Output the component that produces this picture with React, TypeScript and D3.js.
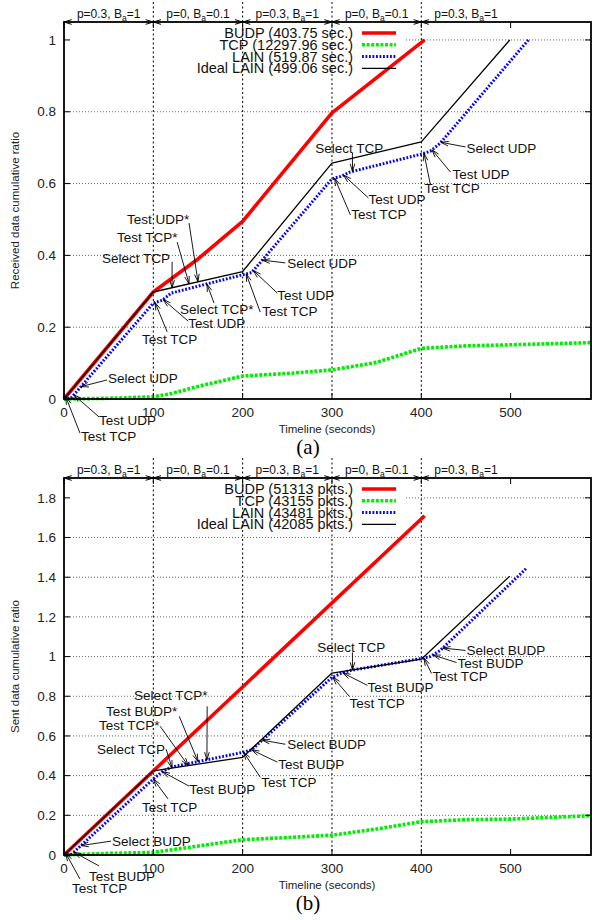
import React from "react";
import * as d3 from "d3";

// tick values
const xTicks = [0, 100, 200, 300, 400, 500];
const yTicksRecv = [0, 0.2, 0.4, 0.6, 0.8, 1];
const yTicksSent = [0, 0.2, 0.4, 0.6, 0.8, 1, 1.2, 1.4, 1.6, 1.8];

// network phases above each panel
const phaseStart = [0, 100, 200, 300, 400];
const phaseP = ["0.3", "0", "0.3", "0", "0.3"];
const phaseBa = ["1", "0.1", "1", "0.1", "1"];

// (a) received data cumulative ratio
const budpRecv: [number, number][] = [[0, 0], [100, 0.298], [150, 0.39], [200, 0.495], [300, 0.797], [403.75, 1]];
const tcpRecv: [number, number][] = [[0, 0], [50, 0.002], [100, 0.006], [120, 0.015], [150, 0.035], [200, 0.064], [250, 0.071], [300, 0.081], [350, 0.102], [400, 0.141], [450, 0.148], [500, 0.151], [590, 0.157]];
const lainRecv: [number, number][] = [[0, 0], [8, 0.003], [100, 0.267], [110, 0.275], [120, 0.295], [200, 0.346], [210, 0.352], [300, 0.613], [310, 0.62], [320, 0.632], [400, 0.682], [410, 0.69], [421, 0.712], [519.87, 1]];
const idealRecv: [number, number][] = [[0, 0], [100, 0.298], [200, 0.355], [300, 0.657], [400, 0.716], [499.06, 1]];
const legendRecv = ["BUDP (403.75 sec.)", "TCP (12297.96 sec.)", "LAIN (519.87 sec.)", "Ideal LAIN (499.06 sec.)"];

// (b) sent data cumulative ratio
const budpSent: [number, number][] = [[0, 0], [403.75, 1.71]];
const tcpSent: [number, number][] = [[0, 0], [50, 0.008], [100, 0.013], [200, 0.077], [250, 0.088], [300, 0.1], [350, 0.131], [400, 0.168], [450, 0.178], [500, 0.181], [590, 0.198]];
const lainSent: [number, number][] = [[0, 0], [8, 0.002], [100, 0.383], [110, 0.42], [120, 0.443], [200, 0.517], [210, 0.53], [300, 0.895], [310, 0.915], [320, 0.93], [400, 0.99], [410, 1.0], [421, 1.03], [518, 1.446]];
const idealSent: [number, number][] = [[0, 0], [100, 0.424], [200, 0.492], [300, 0.917], [400, 0.987], [499, 1.405]];
const legendSent = ["BUDP (51313 pkts.)", "TCP (43155 pkts.)", "LAIN (43481 pkts.)", "Ideal LAIN (42085 pkts.)"];

// annotations: label pos (lx, ly), arrow start (fx, fy), arrow tip on series s at x
type Note = { t: string; lx: number; ly: number; fx: number; fy: number; s: string; x: number };
const notesRecv: Note[] = [
  { t: "Test UDP*", lx: 70.6, ly: 0.501, fx: 140, fy: 0.49, s: "ideal", x: 150 },
  { t: "Test TCP*", lx: 59.4, ly: 0.451, fx: 126.7, fy: 0.437, s: "ideal", x: 140 },
  { t: "Select TCP", lx: 42.6, ly: 0.393, fx: 121, fy: 0.382, s: "ideal", x: 121 },
  { t: "Select TCP*", lx: 130, ly: 0.251, fx: 168, fy: 0.267, s: "lain", x: 160 },
  { t: "Test UDP", lx: 139, ly: 0.212, fx: 139, fy: 0.217, s: "lain", x: 111 },
  { t: "Test TCP", lx: 87.4, ly: 0.167, fx: 115.5, fy: 0.187, s: "lain", x: 102 },
  { t: "Select UDP", lx: 250, ly: 0.379, fx: 247.8, fy: 0.379, s: "lain", x: 222 },
  { t: "Test UDP", lx: 238.8, ly: 0.29, fx: 238.8, fy: 0.295, s: "lain", x: 212 },
  { t: "Test TCP", lx: 222, ly: 0.245, fx: 219.7, fy: 0.242, s: "lain", x: 204 },
  { t: "Select TCP", lx: 281.4, ly: 0.699, fx: 322.9, fy: 0.685, s: "lain", x: 323 },
  { t: "Test UDP", lx: 340.8, ly: 0.557, fx: 340.8, fy: 0.56, s: "lain", x: 313 },
  { t: "Test TCP", lx: 321.7, ly: 0.515, fx: 320.6, fy: 0.513, s: "lain", x: 303 },
  { t: "Select UDP", lx: 450.7, ly: 0.699, fx: 449.6, fy: 0.702, s: "lain", x: 422 },
  { t: "Test UDP", lx: 435, ly: 0.627, fx: 432.7, fy: 0.632, s: "lain", x: 412 },
  { t: "Test TCP", lx: 403.6, ly: 0.588, fx: 410, fy: 0.599, s: "lain", x: 403 },
  { t: "Select UDP", lx: 49.3, ly: 0.0585, fx: 48.2, fy: 0.053, s: "lain", x: 19 },
  { t: "Test UDP", lx: 39.2, ly: -0.058, fx: 39.2, fy: -0.05, s: "lain", x: 11 },
  { t: "Test TCP", lx: 19, ly: -0.103, fx: 17.9, fy: -0.095, s: "ideal", x: 2 },
];
const notesSent: Note[] = [
  { t: "Select TCP*", lx: 78.5, ly: 0.804, fx: 160.3, fy: 0.749, s: "lain", x: 160 },
  { t: "Test BUDP*", lx: 47.1, ly: 0.724, fx: 129, fy: 0.699, s: "lain", x: 150 },
  { t: "Test TCP*", lx: 39.2, ly: 0.654, fx: 107.6, fy: 0.649, s: "ideal", x: 139 },
  { t: "Select TCP", lx: 37, ly: 0.533, fx: 114.3, fy: 0.533, s: "ideal", x: 121 },
  { t: "Test BUDP", lx: 140.1, ly: 0.332, fx: 140.1, fy: 0.347, s: "lain", x: 110 },
  { t: "Test TCP", lx: 87.4, ly: 0.241, fx: 116.6, fy: 0.282, s: "lain", x: 100 },
  { t: "Select BUDP", lx: 250, ly: 0.558, fx: 247.8, fy: 0.558, s: "lain", x: 222 },
  { t: "Test BUDP", lx: 240, ly: 0.458, fx: 238.8, fy: 0.468, s: "lain", x: 210 },
  { t: "Test TCP", lx: 220.9, ly: 0.367, fx: 219.7, fy: 0.392, s: "lain", x: 201 },
  { t: "Select TCP", lx: 283.6, ly: 1.046, fx: 322.9, fy: 1.021, s: "ideal", x: 323 },
  { t: "Test BUDP", lx: 339.7, ly: 0.845, fx: 339.7, fy: 0.855, s: "lain", x: 312 },
  { t: "Test TCP", lx: 319.5, ly: 0.764, fx: 319.5, fy: 0.799, s: "lain", x: 301 },
  { t: "Select BUDP", lx: 450.7, ly: 1.031, fx: 449.6, fy: 1.031, s: "lain", x: 424 },
  { t: "Test BUDP", lx: 440.6, ly: 0.965, fx: 439.5, fy: 0.97, s: "lain", x: 413 },
  { t: "Test TCP", lx: 412.6, ly: 0.9, fx: 411.4, fy: 0.915, s: "lain", x: 403 },
  { t: "Select BUDP", lx: 53.8, ly: 0.07, fx: 52.7, fy: 0.07, s: "lain", x: 19 },
  { t: "Test BUDP", lx: 28, ly: -0.106, fx: 39.2, fy: -0.055, s: "lain", x: 11 },
  { t: "Test TCP", lx: 9, ly: -0.166, fx: 17.9, fy: -0.121, s: "ideal", x: 2 },
];

const FONT = "'Liberation Sans', Arial, Helvetica, sans-serif";

const styles = [
  { color: "#ff0000", w: 3.6, dash: undefined as string | undefined },
  { color: "#00ee00", w: 3.6, dash: "3 1.6" },
  { color: "#0000ff", w: 3, dash: "1.8 1.7" },
  { color: "#000000", w: 1.3, dash: undefined as string | undefined },
];

const interp = (s: [number, number][], x: number) => {
  for (let i = 1; i < s.length; i++) {
    if (x <= s[i][0]) {
      const [x0, y0] = s[i - 1];
      const [x1, y1] = s[i];
      return y0 + ((x - x0) / (x1 - x0)) * (y1 - y0);
    }
  }
  return s[s.length - 1][1];
};

// open gnuplot style arrow
const arrowPath = (x1: number, y1: number, x2: number, y2: number, len = 8, both = false, tail = true) => {
  const a = Math.atan2(y2 - y1, x2 - x1);
  const th = (17 * Math.PI) / 180;
  const head = (px: number, py: number, ang: number) =>
    `M${px - len * Math.cos(ang - th)},${py - len * Math.sin(ang - th)}L${px},${py}L${px - len * Math.cos(ang + th)},${py - len * Math.sin(ang + th)}`;
  let d = tail ? `M${x1},${y1}L${x2},${y2}` : "";
  d += head(x2, y2, a);
  if (both) d += head(x1, y1, a + Math.PI);
  return d;
};

const Panel = (props: any) => {
  const { top, yMax, yTicks, series, legend, notes, yLabel, caption } = props;
  const left = 64, right = 591, bottom = top + 377;
  const x = d3.scaleLinear().domain([0, 590]).range([left, right]);
  const y = d3.scaleLinear().domain([0, yMax]).range([bottom, top]);
  const line = d3.line<[number, number]>().x(d => x(d[0])).y(d => y(d[1]));
  const fmt = d3.format("~g");
  const byKey: any = { lain: series[2], ideal: series[3] };

  return (
    <g fontFamily={FONT}>
      {/* grid */}
      {yTicks.filter((t: number) => t > 0).map((t: number) => (
        <line key={"g" + t} x1={left} x2={right} y1={y(t)} y2={y(t)} stroke="#555" strokeWidth={0.9} strokeDasharray="1 2" />
      ))}
      {/* key background */}
      <rect x={left + 1} y={top + 4} width={339} height={50} fill="#fff" />
      {/* phase separators */}
      {phaseStart.slice(1).map(p => (
        <line key={"v" + p} x1={x(p)} x2={x(p)} y1={top - 20} y2={bottom} stroke="#000" strokeWidth={1} strokeDasharray="2 2.5" />
      ))}
      {/* series */}
      {series.map((s: [number, number][], i: number) => (
        <path key={"s" + i} d={line(s) || ""} fill="none" stroke={styles[i].color} strokeWidth={styles[i].w}
          strokeDasharray={styles[i].dash} strokeLinejoin="round" />
      ))}
      {/* border */}
      <rect x={left} y={top} width={right - left} height={bottom - top} fill="none" stroke="#000" strokeWidth={1.8} />
      {yTicks.map((t: number) => (
        <g key={"yt" + t}>
          <line x1={left} x2={left + 6} y1={y(t)} y2={y(t)} stroke="#000" />
          <line x1={right - 6} x2={right} y1={y(t)} y2={y(t)} stroke="#000" />
          <text x={56} y={y(t)} dy="0.35em" textAnchor="end" fontSize={13.5} fill="#222">{fmt(t)}</text>
        </g>
      ))}
      {xTicks.map(t => (
        <g key={"xt" + t}>
          <line x1={x(t)} x2={x(t)} y1={bottom} y2={bottom - 6} stroke="#000" />
          <line x1={x(t)} x2={x(t)} y1={top} y2={top + 6} stroke="#000" />
          <text x={x(t)} y={bottom + 13} dy="0.35em" textAnchor="middle" fontSize={13.5} fill="#222">{t}</text>
        </g>
      ))}
      <text x={327} y={bottom + 30} dy="0.35em" textAnchor="middle" fontSize={11.5} fill="#222">Timeline (seconds)</text>
      <text transform={`translate(15,${(top + bottom) / 2}) rotate(-90)`} dy="0.35em" textAnchor="middle" fontSize={11.5} fill="#222">{yLabel}</text>
      <text x={308} y={bottom + 48} dy="0.35em" textAnchor="middle" fontSize={21} fontFamily="'Liberation Serif', 'DejaVu Serif', serif">{caption}</text>
      {/* phase arrows + labels */}
      {phaseStart.map((p, i) => {
        const last = i === phaseStart.length - 1;
        const x1 = x(p);
        const x2 = last ? right + 20 : x(phaseStart[i + 1]);
        const mid = last ? x(p + 50) : (x1 + x2) / 2;
        return (
          <g key={"ph" + i}>
            <path d={last ? arrowPath(x2, top, x1, top, 8, false, false) : arrowPath(x1, top, x2, top, 8, true, false)}
              fill="none" stroke="#000" strokeWidth={1} />
            <text x={mid} y={top - 8} dy="0.35em" textAnchor="middle" fontSize={12} fill="#111">
              <tspan>{`p=${phaseP[i]}, B`}</tspan>
              <tspan dy={3} fontSize={8.5}>a</tspan>
              <tspan dy={-3}>{`=${phaseBa[i]}`}</tspan>
            </text>
          </g>
        );
      })}
      {/* legend */}
      {legend.map((l: string, i: number) => {
        const ly = top + 11 + i * 11.8;
        return (
          <g key={"l" + i}>
            <text x={353} y={ly} dy="0.35em" textAnchor="end" fontSize={14.5} fill="#111">{l}</text>
            <line x1={362} x2={396} y1={ly} y2={ly} stroke={styles[i].color} strokeWidth={styles[i].w} strokeDasharray={styles[i].dash} />
          </g>
        );
      })}
      {/* annotations */}
      {notes.map((n: Note, i: number) => {
        const tx = x(n.x), ty = y(interp(byKey[n.s], n.x));
        return (
          <g key={"n" + i}>
            <path d={arrowPath(x(n.fx), y(n.fy), tx, ty, 8)} fill="none" stroke="#000" strokeWidth={0.9} />
            <text x={x(n.lx)} y={y(n.ly)} dy="0.35em" fontSize={13.5} fill="#111">{n.t}</text>
          </g>
        );
      })}
    </g>
  );
};

export default function App() {
  return (
    <svg width={592} height={920} style={{ position: "absolute", left: 0, top: 0, background: "#fff" }}>
      <rect width={592} height={920} fill="#fff" />
      <Panel top={22} yMax={1.05} yTicks={yTicksRecv} series={[budpRecv, tcpRecv, lainRecv, idealRecv]}
        legend={legendRecv} notes={notesRecv} yLabel="Received data cumulative ratio" caption="(a)" />
      <Panel top={478} yMax={1.9} yTicks={yTicksSent} series={[budpSent, tcpSent, lainSent, idealSent]}
        legend={legendSent} notes={notesSent} yLabel="Sent data cumulative ratio" caption="(b)" />
    </svg>
  );
}
